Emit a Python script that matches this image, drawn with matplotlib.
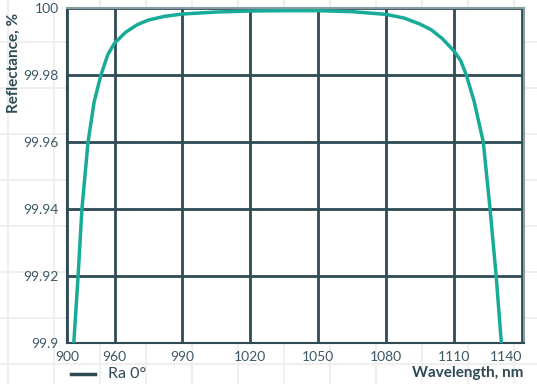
import matplotlib
matplotlib.use('Agg')
import matplotlib.pyplot as plt
from matplotlib.lines import Line2D

# wavelength (nm) / reflectance (%)
wavelength = [942.0, 943.9, 945.6, 948.3, 951.0, 954.0, 957.0, 960.0, 965.0, 970.0, 975.0,
              982.0, 990.0, 1005.0, 1020.0, 1035.0, 1050.0, 1065.0, 1080.0, 1088.0, 1095.0,
              1100.0, 1105.0, 1110.0, 1113.0, 1115.5, 1119.0, 1123.0, 1126.0, 1128.7, 1131.0]
reflectance = [99.900, 99.920, 99.940, 99.960, 99.972, 99.980, 99.986, 99.9895, 99.9928, 99.9950, 99.9964,
               99.9975, 99.9982, 99.9988, 99.9991, 99.9992, 99.9992, 99.9989, 99.9981, 99.9970, 99.9952,
               99.9935, 99.9908, 99.9872, 99.9843, 99.9800, 99.9720, 99.9600, 99.9400, 99.9200, 99.9000]

x_ticks = [939, 960, 990, 1020, 1050, 1080, 1110, 1140]
x_labels = ['900', '960', '990', '1020', '1050', '1080', '1110', '1140']
y_ticks = [99.9, 99.92, 99.94, 99.96, 99.98, 100]
y_labels = ['99.9', '99.92', '99.94', '99.96', '99.98', '100']

DARK = '#2e4a55'
TEAL = '#17ab98'
plt.rcParams['font.family'] = ['Lato', 'DejaVu Sans']

fig = plt.figure(figsize=(5.37, 3.84), dpi=100)

# faint graph-paper background
for xp in range(8, 537, 46):
    fig.add_artist(Line2D([xp / 537, xp / 537], [0, 1], color='#efefef', lw=1.5, zorder=0))
for yp in range(20, 384, 46):
    fig.add_artist(Line2D([0, 1], [yp / 384, yp / 384], color='#efefef', lw=1.5, zorder=0))

ax = fig.add_axes([67 / 537, 41 / 384, 457 / 537, 335 / 384])
ax.plot(wavelength, reflectance, color=TEAL, lw=2.5, zorder=3)

ax.set_xlim(939, 1141)
ax.set_ylim(99.9, 100)
ax.set_xticks(x_ticks, x_labels)
ax.set_yticks(y_ticks, y_labels)
ax.grid(True, color=DARK, lw=2)
ax.tick_params(length=0, labelsize=10, colors='#3c5865', pad=6)
ax.get_xticklabels()[-1].set_horizontalalignment('right')
ax.get_xticklabels()[-1].set_x(1141)
for side in ['top', 'right']:
    ax.spines[side].set_color('#8a9ba1')
    ax.spines[side].set_linewidth(1.5)
for side in ['left', 'bottom']:
    ax.spines[side].set_color(DARK)
    ax.spines[side].set_linewidth(1.5)

fig.text(14 / 537, 1 - 63 / 384, 'Reflectance, %', rotation=90, ha='center', va='center',
         fontsize=11, fontweight='bold', color=DARK)
fig.text(523 / 537, 1 - 373 / 384, 'Wavelength, nm', ha='right', va='center',
         fontsize=11, fontweight='bold', color=DARK)

fig.add_artist(Line2D([71 / 537, 95 / 537], [1 - 374 / 384, 1 - 374 / 384], color=DARK, lw=2.5))
fig.text(108 / 537, 1 - 374 / 384, 'Ra 0°', ha='left', va='center', fontsize=11.5, color=DARK)

fig.savefig('out.png', dpi=100)
